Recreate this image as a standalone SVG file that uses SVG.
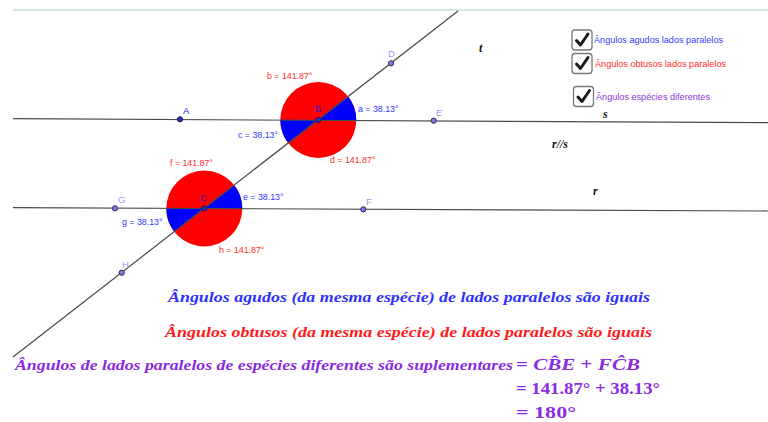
<svg xmlns="http://www.w3.org/2000/svg" width="768" height="422" viewBox="0 0 768 422">
<style>
.ln{stroke:#4a4a4a;stroke-width:1.2;fill:none}
.red{fill:#ff0000}
.blue{fill:#0000ff}
.lbl{font-family:"Liberation Sans",Arial,sans-serif;font-size:8.8px}
.rl{fill:#ff2a2a}
.bl{fill:#3333ff}
.ptd{fill:#2b2bb8;stroke:#1a1a4a;stroke-width:1}
.ptl{fill:#7a7ae0;stroke:#2a2a5a;stroke-width:1}
.pld{font-family:"Liberation Sans",Arial,sans-serif;font-size:9.5px;fill:#2525c8}
.pll{font-family:"Liberation Sans",Arial,sans-serif;font-size:9.5px;fill:#9a9af0}
.cb{fill:#fff;stroke:#777;stroke-width:1.3}
.ck{fill:none;stroke:#1a1a1a;stroke-width:3;stroke-linecap:round;stroke-linejoin:round}
.cbt{font-family:"Liberation Sans",Arial,sans-serif;font-size:9.5px}
.mi{font-family:"Liberation Serif","Times New Roman",serif;font-style:italic;font-size:12px;fill:#111;font-weight:bold}
.big{font-family:"Liberation Serif","Times New Roman",serif;font-style:italic;font-weight:bold;font-size:15px}
.mth{font-family:"Liberation Serif","Times New Roman",serif;font-weight:bold;font-size:17px;fill:#8a2be2}
</style>
<line x1="13" y1="10" x2="768" y2="10" stroke="#b4ccc6" stroke-width="1"/>
<g id="circleB">
<circle cx="318.3" cy="120" r="38" class="red"/>
<path class="blue" d="M318.3,120 L356.3,120.2 A38,38 0 0 0 348.3,96.7 Z"/>
<path class="blue" d="M318.3,120 L280.3,119.8 A38,38 0 0 0 288.3,143.3 Z"/>
</g>
<g id="circleC">
<circle cx="204.3" cy="208.5" r="38" class="red"/>
<path class="blue" d="M204.3,208.5 L242.3,208.7 A38,38 0 0 0 234.3,185.2 Z"/>
<path class="blue" d="M204.3,208.5 L166.3,208.3 A38,38 0 0 0 174.3,231.8 Z"/>
</g>
<g id="connectors">
<line class="ln" x1="13" y1="118.7" x2="768" y2="122.7"/>
<line class="ln" x1="13" y1="207.7" x2="768" y2="211"/>
<line class="ln" x1="13" y1="357" x2="458" y2="11"/>
</g>
<g id="angleLabels" class="lbl">
<text x="267" y="79" class="rl">b = 141.87°</text>
<text x="358" y="112" class="bl">a = 38.13°</text>
<text x="238" y="138" class="bl">c = 38.13°</text>
<text x="330" y="163" class="rl">d = 141.87°</text>
<text x="170" y="166" class="rl">f = 141.87°</text>
<text x="243" y="200" class="bl">e = 38.13°</text>
<text x="122" y="225" class="bl">g = 38.13°</text>
<text x="219" y="253" class="rl">h = 141.87°</text>
</g>
<g id="pointA"><circle cx="180" cy="119.3" r="2.6" class="ptd"/><text x="183" y="114" class="pld">A</text></g>
<g id="pointB"><circle cx="318.3" cy="120" r="2.6" class="ptd"/><text x="315" y="112" class="pld">B</text></g>
<g id="pointC"><circle cx="204.3" cy="208.5" r="2.6" class="ptd"/><text x="200" y="201" class="pld">C</text></g>
<g id="pointD"><circle cx="391" cy="63.3" r="2.6" class="ptl"/><text x="388" y="57" class="pll">D</text></g>
<g id="pointE"><circle cx="433.7" cy="120.7" r="2.6" class="ptl"/><text x="436" y="116" class="pll">E</text></g>
<g id="pointF"><circle cx="363.3" cy="209.3" r="2.6" class="ptl"/><text x="366" y="205" class="pll">F</text></g>
<g id="pointG"><circle cx="115" cy="208.3" r="2.6" class="ptl"/><text x="118" y="203" class="pll">G</text></g>
<g id="pointH"><circle cx="121.7" cy="272.7" r="2.6" class="ptl"/><text x="122" y="268" class="pll">H</text></g>
<g id="lineLabels">
<text x="479" y="52" class="mi">t</text>
<text x="603" y="118" class="mi">s</text>
<text x="552" y="148" class="mi">r//s</text>
<text x="593" y="195" class="mi">r</text>
</g>
<g id="checkbox1">
<rect x="572" y="30" width="20" height="20" rx="3" class="cb"/>
<path class="ck" d="M576.5,40.5 L580.5,45 L588,34"/>
<text x="594" y="43" class="cbt" fill="#3a3aff" textLength="129" lengthAdjust="spacingAndGlyphs">Ângulos agudos lados paralelos</text>
</g>
<g id="checkbox2">
<rect x="572" y="53.5" width="20" height="20" rx="3" class="cb"/>
<path class="ck" d="M576.5,64 L580.5,68.5 L588,57.5"/>
<text x="595" y="66.5" class="cbt" fill="#ff2a2a" textLength="131" lengthAdjust="spacingAndGlyphs">Ângulos obtusos lados paralelos</text>
</g>
<g id="checkbox3">
<rect x="573.5" y="86.5" width="20" height="20" rx="3" class="cb"/>
<path class="ck" d="M578,97 L582,101.5 L589.5,90.5"/>
<text x="596" y="100" class="cbt" fill="#8a35d8" textLength="114" lengthAdjust="spacingAndGlyphs">Ângulos espécies diferentes</text>
</g>
<g id="text1"><text x="168" y="302" class="big" fill="#3030ff" textLength="482" lengthAdjust="spacingAndGlyphs">Ângulos agudos (da mesma espécie) de lados paralelos são iguais</text></g>
<g id="text2"><text x="165" y="337" class="big" fill="#ff1a1a" textLength="487" lengthAdjust="spacingAndGlyphs">Ângulos obtusos (da mesma espécie) de lados paralelos são iguais</text></g>
<g id="text3">
<text x="15" y="370" class="big" fill="#8a2be2" textLength="498" lengthAdjust="spacingAndGlyphs">Ângulos de lados paralelos de espécies diferentes são suplementares</text>
<text x="516" y="370" class="mth" textLength="124" lengthAdjust="spacingAndGlyphs">= <tspan font-style="italic">C</tspan><tspan font-style="italic">B̂</tspan><tspan font-style="italic">E</tspan> + <tspan font-style="italic">F</tspan><tspan font-style="italic">Ĉ</tspan><tspan font-style="italic">B</tspan></text>
<text x="516" y="394" class="mth" textLength="144" lengthAdjust="spacingAndGlyphs">= 141.87° + 38.13°</text>
<text x="516" y="418" class="mth" textLength="60" lengthAdjust="spacingAndGlyphs">= 180°</text>
</g>
</svg>
